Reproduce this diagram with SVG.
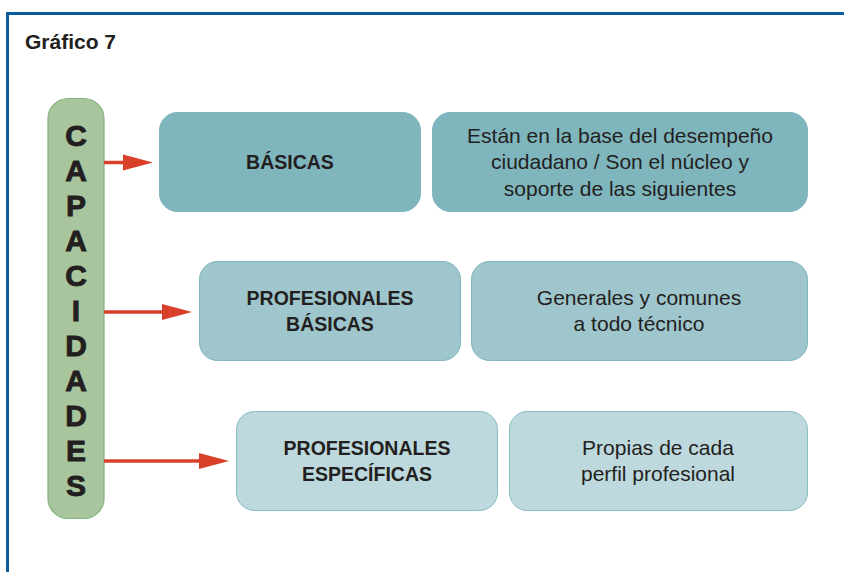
<svg xmlns="http://www.w3.org/2000/svg" width="844" height="572" viewBox="0 0 844 572">
<defs>
<style>
.frame{fill:none;stroke:#0b5c9e;stroke-width:3}
.title{font-family:"Liberation Sans",Arial,sans-serif;font-weight:bold;font-size:21px;fill:#231f20}
.pill{fill:#a8c59e;stroke:#86b57f;stroke-width:1.2}
.vl{font-family:"Liberation Sans",Arial,sans-serif;font-weight:bold;font-size:30px;fill:#231f20;stroke:#231f20;stroke-width:0.9;text-anchor:middle}
.b1{fill:#7fb5bd;stroke:#7fb5bd;stroke-width:1}
.b2{fill:#9ec6cc;stroke:#7fb5bd;stroke-width:1}
.b3{fill:#bdd9dd;stroke:#86bcc4;stroke-width:1}
.lb{font-family:"Liberation Sans",Arial,sans-serif;font-weight:bold;font-size:19.5px;fill:#231f20;text-anchor:middle}
.tx{font-family:"Liberation Sans",Arial,sans-serif;font-size:21px;fill:#231f20;text-anchor:middle}
.conn{stroke:#d9402a;stroke-width:3.5;fill:none}
.head{fill:#d9402a}
</style>
</defs>
<path class="frame" d="M7.5 572 V13.5 H844"/>
<text class="title" x="25" y="49">Gráfico 7</text>

<g id="capacidades">
<rect class="pill" x="48" y="98.5" width="56" height="420" rx="20"/>
<text class="vl" x="76" y="145.5">C</text>
<text class="vl" x="76" y="180.5">A</text>
<text class="vl" x="76" y="215.5">P</text>
<text class="vl" x="76" y="250.5">A</text>
<text class="vl" x="76" y="285.5">C</text>
<text class="vl" x="76" y="320.5">I</text>
<text class="vl" x="76" y="355.5">D</text>
<text class="vl" x="76" y="390.5">A</text>
<text class="vl" x="76" y="425.5">D</text>
<text class="vl" x="76" y="460.5">E</text>
<text class="vl" x="76" y="495.5">S</text>
</g>

<g id="connectors">
<line class="conn" x1="104" y1="162.5" x2="126" y2="162.5"/>
<polygon class="head" points="123,154.5 153,162.5 123,170.5"/>
<line class="conn" x1="104" y1="312" x2="166" y2="312"/>
<polygon class="head" points="162,304 192,312 162,320"/>
<line class="conn" x1="104" y1="461" x2="203" y2="461"/>
<polygon class="head" points="199,453 229,461 199,469"/>
</g>

<g id="basicas">
<rect class="b1" x="159.5" y="112.5" width="261" height="99" rx="18"/>
<text class="lb" x="290" y="169">BÁSICAS</text>
</g>
<g id="basicas-desc">
<rect class="b1" x="432.5" y="112.5" width="375" height="99" rx="18"/>
<text class="tx" x="620" y="143">Están en la base del desempeño</text>
<text class="tx" x="620" y="169">ciudadano / Son el núcleo y</text>
<text class="tx" x="620" y="196">soporte de las siguientes</text>
</g>

<g id="prof-basicas">
<rect class="b2" x="199.5" y="261.5" width="261" height="99" rx="18"/>
<text class="lb" x="330" y="305">PROFESIONALES</text>
<text class="lb" x="330" y="331">BÁSICAS</text>
</g>
<g id="prof-basicas-desc">
<rect class="b2" x="471.5" y="261.5" width="336" height="99" rx="18"/>
<text class="tx" x="639" y="305">Generales y comunes</text>
<text class="tx" x="639" y="331">a todo técnico</text>
</g>

<g id="prof-especificas">
<rect class="b3" x="236.5" y="411.5" width="261" height="99" rx="18"/>
<text class="lb" x="367" y="455">PROFESIONALES</text>
<text class="lb" x="367" y="481">ESPECÍFICAS</text>
</g>
<g id="prof-especificas-desc">
<rect class="b3" x="509.5" y="411.5" width="298" height="99" rx="18"/>
<text class="tx" x="658" y="455">Propias de cada</text>
<text class="tx" x="658" y="481">perfil profesional</text>
</g>
</svg>
